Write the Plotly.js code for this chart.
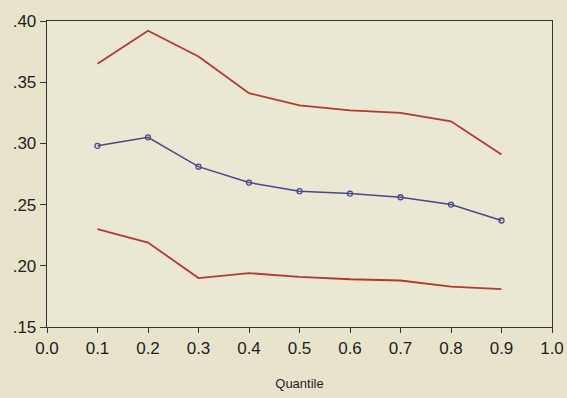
<!DOCTYPE html>
<html><head><meta charset="utf-8">
<script src="https://cdn.plot.ly/plotly-3.0.1.min.js"></script>
<style>html,body{margin:0;padding:0;background:#e7e3cb;}</style>
</head><body>
<div id="chart" style="width:567px;height:398px;"></div>
<script>
var quantiles = [0.1,0.2,0.3,0.4,0.5,0.6,0.7,0.8,0.9];
var estimate = [0.298,0.305,0.281,0.268,0.261,0.259,0.256,0.250,0.237];
var upperBand = [0.365,0.392,0.371,0.341,0.331,0.327,0.325,0.318,0.291];
var lowerBand = [0.230,0.219,0.190,0.194,0.191,0.189,0.188,0.183,0.181];
var yTickVals = [0.15,0.20,0.25,0.30,0.35,0.40];
var yTickText = ['.15','.20','.25','.30','.35','.40'];
var xTickVals = [0.0,0.1,0.2,0.3,0.4,0.5,0.6,0.7,0.8,0.9,1.0];

var traces = [
  {x: quantiles, y: upperBand, mode:'lines', line:{color:'#b33833', width:1.8}, hoverinfo:'skip'},
  {x: quantiles, y: lowerBand, mode:'lines', line:{color:'#b33833', width:1.8}, hoverinfo:'skip'},
  {x: quantiles, y: estimate, mode:'lines+markers', line:{color:'#48488a', width:1.5},
   marker:{symbol:'circle-open', size:5, color:'#48488a', line:{width:1.3}}}
];
var layout = {
  width:567, height:398,
  margin:{l:47, r:15, t:21, b:71},
  paper_bgcolor:'#e8e4cc', plot_bgcolor:'#eae7d3',
  showlegend:false,
  font:{family:'Liberation Sans, Arial, sans-serif', color:'#1e1e1e', size:17},
  xaxis:{range:[0,1], tickvals:xTickVals, tickformat:'.1f', showgrid:false, zeroline:false,
    showline:true, mirror:true, linecolor:'#333', linewidth:1.3, ticks:'outside', ticklen:5, tickcolor:'#333',
    tickfont:{size:17}, title:{text:'Quantile', font:{size:13}, standoff:22}},
  yaxis:{range:[0.15,0.40], tickvals:yTickVals, ticktext:yTickText, showgrid:false, zeroline:false,
    showline:true, mirror:true, linecolor:'#333', linewidth:1.3, ticks:'outside', ticklen:6, tickcolor:'#333',
    tickfont:{size:17}}
};
Plotly.newPlot('chart', traces, layout, {staticPlot:true});
</script>
</body></html>
